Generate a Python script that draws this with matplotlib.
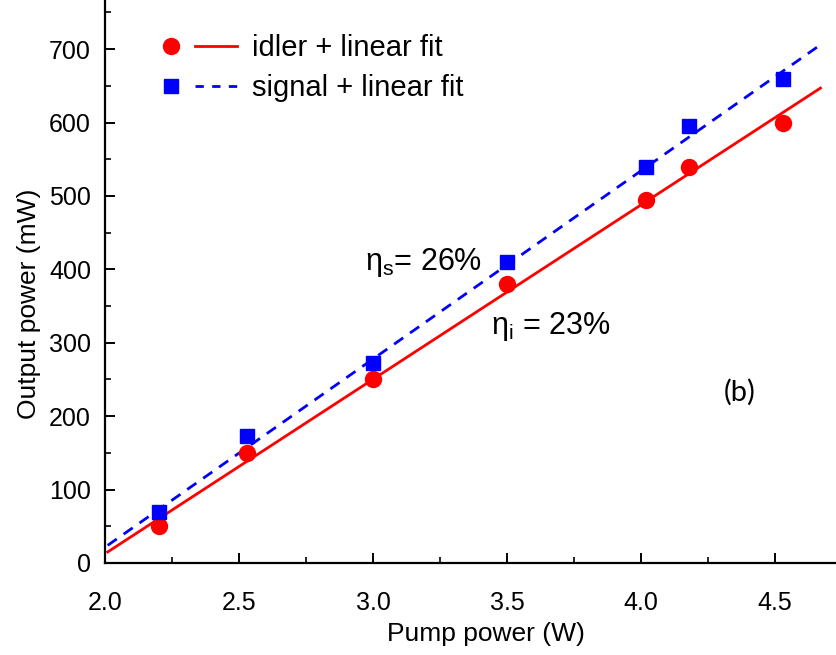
import matplotlib
matplotlib.use("Agg")
import matplotlib.pyplot as plt
from matplotlib.lines import Line2D
from matplotlib.legend_handler import HandlerTuple
from matplotlib.ticker import MultipleLocator

plt.rcParams['font.family'] = ['Liberation Sans', 'DejaVu Sans']
plt.rcParams['mathtext.fontset'] = 'custom'
plt.rcParams['mathtext.rm'] = 'Liberation Sans'
plt.rcParams['mathtext.it'] = 'Liberation Sans'

# measured points
pump = [2.2, 2.53, 3.0, 3.5, 4.02, 4.18, 4.53]
idler = [50, 150, 250, 380, 495, 540, 600]
signal = [70, 173, 273, 410, 540, 595, 660]

# linear fits (end points)
fit_x = [2.01, 4.67]
idler_fit = [15, 647]
signal_fit = [24, 706]

fig = plt.figure(figsize=(8.36, 6.55), dpi=100)
ax = fig.add_axes([0.1256, 0.1405, 0.8744, 0.8595])

ax.plot(pump, idler, 'o', color='red', markersize=11.5, zorder=3)
ax.plot(fit_x, idler_fit, '-', color='red', lw=2)
ax.plot(pump, signal, 's', color='blue', markersize=10, zorder=3)
ax.plot(fit_x, signal_fit, '--', color='blue', lw=2, dashes=(4, 3))

ax.set_xlim(2.0, 4.728)
ax.set_ylim(0, 767)
ax.xaxis.set_minor_locator(MultipleLocator(0.25))
ax.yaxis.set_minor_locator(MultipleLocator(50))
ax.set_xticks([2.0, 2.5, 3.0, 3.5, 4.0, 4.5])
ax.set_xticklabels(['2.0', '2.5', '3.0', '3.5', '4.0', '4.5'])
ax.set_yticks([0, 100, 200, 300, 400, 500, 600, 700])

ax.spines['top'].set_visible(False)
ax.spines['right'].set_visible(False)
for s in ['left', 'bottom']:
    ax.spines[s].set_linewidth(1.6)
ax.tick_params(which='major', direction='in', length=7, width=1.4, labelsize=18)
ax.tick_params(axis='x', which='major', pad=20)
ax.tick_params(axis='y', which='major', pad=10)
ax.tick_params(which='minor', direction='in', length=4, width=1.2)

ax.set_xlabel('Pump power (W)', fontsize=19)
ax.set_ylabel('Output power (mW)', fontsize=19)
ax.xaxis.set_label_coords(0.521, -0.105)
ax.yaxis.set_label_coords(-0.088, 0.46)

ax.text(2.97, 410, r'$\mathrm{\eta_s}$= 26%', fontsize=22, va='center', ha='left')
ax.text(3.44, 322, r'$\mathrm{\eta_i}$ = 23%', fontsize=22, va='center', ha='left')
ax.text(4.37, 232, '(b)', fontsize=21, va='center', ha='center', family=['Lato', 'DejaVu Sans'])

h_idler = (Line2D([], [], marker='o', color='red', ls='none', markersize=11.5),
           Line2D([], [], color='red', lw=2))
h_signal = (Line2D([], [], marker='s', color='blue', ls='none', markersize=10),
            Line2D([], [], color='blue', lw=2, ls='--', dashes=(3, 3)))
ax.legend([h_idler, h_signal], ['idler + linear fit', 'signal + linear fit'],
          handler_map={tuple: HandlerTuple(ndivide=None, pad=0.1)},
          loc='upper left', bbox_to_anchor=(0.045, 0.96), frameon=False,
          fontsize=21, handlelength=3.0, handletextpad=0.5, labelspacing=0.4,
          borderaxespad=0)

fig.savefig('out.png', dpi=100)
